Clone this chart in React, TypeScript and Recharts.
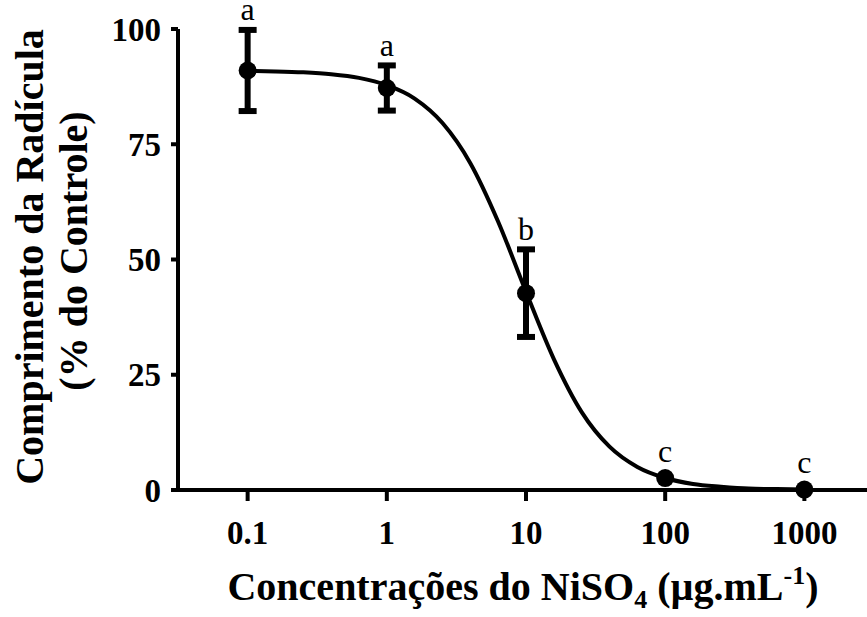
import React from "react";
import {
  ComposedChart,
  Line,
  Scatter,
  XAxis,
  YAxis,
  ErrorBar,
  LabelList,
} from "recharts";

// Concentrations (µg/mL) of the measured points
const concentrations = [0.1, 1, 10, 100, 1000];
// Root length, % of control
const means = [91, 87.2, 42.7, 2.6, 0.1];
// Error bar half-lengths
const errors = [8.8, 4.9, 9.5, 0, 0];
// Significance letters
const letters = ["a", "a", "b", "c", "c"];

// Fitted curve
const curveX = [
  0.1, 0.158, 0.251, 0.398, 0.631, 1, 1.585, 2.512, 3.981, 6.31, 10, 15.85,
  25.12, 39.81, 63.1, 100, 158.5, 251.2, 398.1, 631, 1000,
];
const curveY = [
  90.9, 90.8, 90.6, 90.2, 89.4, 87.8, 84.9, 79.6, 70.9, 58.2, 43.0, 28.4,
  16.9, 9.4, 5.0, 2.6, 1.3, 0.7, 0.3, 0.2, 0.1,
];

const xTicks = [0.1, 1, 10, 100, 1000];
const yTicks = [0, 25, 50, 75, 100];

const points = concentrations.map((x, i) => ({
  x,
  y: means[i],
  err: errors[i],
}));
const letterData = concentrations.map((x, i) => ({
  x,
  top: means[i] + errors[i],
  hasErr: errors[i] > 0,
  letter: letters[i],
}));
const curve = curveX.map((x, i) => ({ x, y: curveY[i] }));

const FONT = '"Liberation Serif", "Times New Roman", serif';

const Dot = (p: any) => <circle cx={p.cx} cy={p.cy} r={9} fill="#000" />;
const Empty = () => <g />;

const LetterLabel = (p: any) => {
  const item = letterData[p.index];
  const dy = item && item.hasErr ? -5 : -12;
  return (
    <text
      x={p.x + (p.width || 0) / 2}
      y={p.y + dy}
      textAnchor="middle"
      fontFamily={FONT}
      fontSize={32}
      fill="#000"
    >
      {p.value}
    </text>
  );
};

const YTitle = () => (
  <g>
    <text
      transform="translate(43, 257) rotate(-90)"
      textAnchor="middle"
      fontFamily={FONT}
      fontWeight="bold"
      fontSize={40}
      fill="#000"
    >
      Comprimento da Radícula
    </text>
    <text
      transform="translate(87, 251) rotate(-90)"
      textAnchor="middle"
      fontFamily={FONT}
      fontWeight="bold"
      fontSize={40}
      fill="#000"
    >
      (% do Controle)
    </text>
  </g>
);

const XTitle = () => (
  <text
    x={523}
    y={600}
    textAnchor="middle"
    fontFamily={FONT}
    fontWeight="bold"
    fontSize={40}
    fill="#000"
  >
    Concentrações do NiSO
    <tspan fontSize={26} dy={8}>
      4
    </tspan>
    <tspan dy={-8}> (µg.mL</tspan>
    <tspan fontSize={26} dy={-16}>
      -1
    </tspan>
    <tspan dy={16}>)</tspan>
  </text>
);

export default function App() {
  return (
    <div style={{ position: "absolute", left: 0, top: 0, background: "#fff" }}>
      <ComposedChart
        width={867}
        height={617}
        margin={{ top: 29, right: 0, bottom: 0, left: 0 }}
      >
        <XAxis
          dataKey="x"
          type="number"
          scale="log"
          domain={[0.0316, 2818]}
          allowDataOverflow
          ticks={xTicks}
          tickFormatter={(v: number) => String(v)}
          height={127}
          axisLine={{ stroke: "#000", strokeWidth: 4 }}
          tickLine={{ stroke: "#000", strokeWidth: 4 }}
          tickSize={11}
          tickMargin={20}
          tick={{
            fill: "#000",
            fontFamily: FONT,
            fontWeight: "bold",
            fontSize: 33,
          }}
          label={<XTitle />}
        />
        <YAxis
          type="number"
          domain={[0, 100]}
          ticks={yTicks}
          width={178}
          axisLine={{ stroke: "#000", strokeWidth: 4 }}
          tickLine={{ stroke: "#000", strokeWidth: 4 }}
          tickSize={7}
          tickMargin={10}
          tick={{
            fill: "#000",
            fontFamily: FONT,
            fontWeight: "bold",
            fontSize: 33,
          }}
          label={<YTitle />}
        />
        <Line
          data={curve}
          dataKey="y"
          type="monotone"
          dot={false}
          stroke="#000"
          strokeWidth={4}
          isAnimationActive={false}
        />
        <Scatter
          data={points}
          dataKey="y"
          shape={Dot}
          isAnimationActive={false}
        >
          <ErrorBar
            dataKey="err"
            direction="y"
            width={9}
            strokeWidth={6}
            stroke="#000"
            isAnimationActive={false}
          />
        </Scatter>
        <Scatter
          data={letterData}
          dataKey="top"
          shape={Empty}
          isAnimationActive={false}
        >
          <LabelList dataKey="letter" content={LetterLabel} />
        </Scatter>
      </ComposedChart>
    </div>
  );
}
